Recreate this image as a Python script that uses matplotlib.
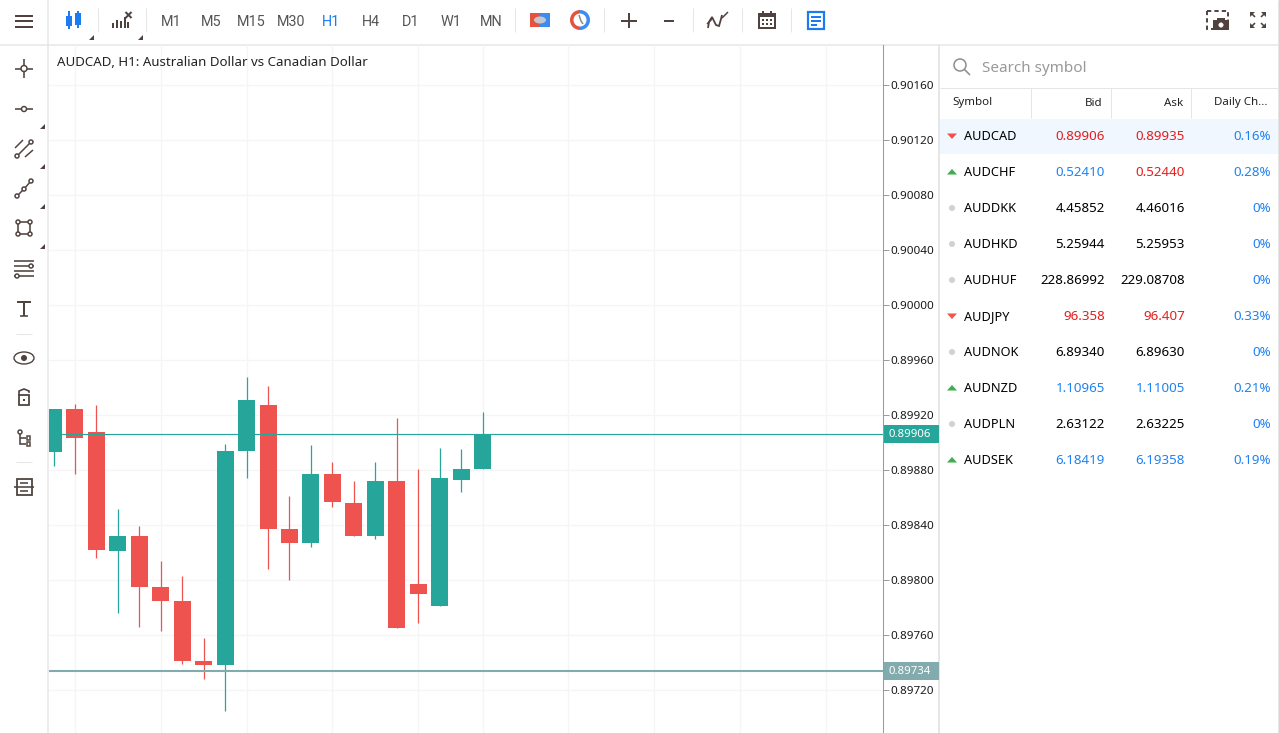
import matplotlib
matplotlib.use('Agg')
import matplotlib.pyplot as plt
import numpy as np
from matplotlib.patches import Rectangle, Circle, Polygon, Ellipse, Wedge
from matplotlib.ticker import FormatStrFormatter

plt.rcParams['font.family'] = ['Noto Sans', 'DejaVu Sans']

# candles, oldest first
opens = [0.89893, 0.89924, 0.89908, 0.89821, 0.89832, 0.89795, 0.89785, 0.89741, 0.89738, 0.89894, 0.89927,
         0.89837, 0.89827, 0.89877, 0.89856, 0.89832, 0.89872, 0.89797, 0.89781, 0.89873, 0.89881]
highs = [0.89924, 0.89928, 0.89927, 0.89852, 0.89839, 0.89814, 0.89803, 0.89758, 0.89899, 0.89948, 0.89941,
         0.89861, 0.89898, 0.89886, 0.89872, 0.89886, 0.89918, 0.89881, 0.89896, 0.89895, 0.89922]
lows = [0.89883, 0.89877, 0.89816, 0.89776, 0.89766, 0.89763, 0.89739, 0.89728, 0.89705, 0.89874, 0.89808,
        0.89800, 0.89824, 0.89853, 0.89832, 0.89830, 0.89765, 0.89769, 0.89781, 0.89864, 0.89881]
closes = [0.89924, 0.89903, 0.89822, 0.89832, 0.89795, 0.89785, 0.89741, 0.89738, 0.89894, 0.89931, 0.89837,
          0.89827, 0.89877, 0.89857, 0.89832, 0.89872, 0.89765, 0.89790, 0.89874, 0.89881, 0.89906]

price_ticks = [0.90160, 0.90120, 0.90080, 0.90040, 0.90000, 0.89960, 0.89920, 0.89880, 0.89840, 0.89800, 0.89760, 0.89720]
time_grid = [1, 5, 9, 13, 17, 20, 24, 28, 32, 36]
bid_price = 0.89906
low_price = 0.89734

timeframes = ['M1', 'M5', 'M15', 'M30', 'H1', 'H4', 'D1', 'W1', 'MN']

symbols = ['AUDCAD', 'AUDCHF', 'AUDDKK', 'AUDHKD', 'AUDHUF', 'AUDJPY', 'AUDNOK', 'AUDNZD', 'AUDPLN', 'AUDSEK']
bids = ['0.89906', '0.52410', '4.45852', '5.25944', '228.86992', '96.358', '6.89340', '1.10965', '2.63122', '6.18419']
asks = ['0.89935', '0.52440', '4.46016', '5.25953', '229.08708', '96.407', '6.89630', '1.11005', '2.63225', '6.19358']
changes = ['0.16%', '0.28%', '0%', '0%', '0%', '0.33%', '0%', '0.21%', '0%', '0.19%']
directions = ['down', 'up', 'flat', 'flat', 'flat', 'down', 'flat', 'up', 'flat', 'up']
bid_dirs = ['down', 'up', 'flat', 'flat', 'flat', 'down', 'flat', 'up', 'flat', 'up']
ask_dirs = ['down', 'down', 'flat', 'flat', 'flat', 'down', 'flat', 'up', 'flat', 'up']

UP = '#26a69a'
DOWN = '#ef5350'
BROWN = '#50433f'
SEP = '#e6e6e6'
BLUE = '#1a7cf0'
TEXT_COL = {'down': '#e81c1c', 'up': '#1f82f2', 'flat': '#000000'}

W, H = 1279, 733
fig = plt.figure(figsize=(W / 100, H / 100), dpi=100, facecolor='white')

# pixel canvas for the toolbars and the symbol table
ui = fig.add_axes([0, 0, 1, 1], zorder=0)
ui.set_xlim(0, W)
ui.set_ylim(H, 0)
ui.axis('off')


def ln(xs, ys, lw=2.0, c=BROWN):
    ui.plot(xs, ys, color=c, lw=lw * 0.72, solid_capstyle='butt', solid_joinstyle='miter')


def box(x, y, w, h, c=BROWN, **kw):
    ui.add_patch(Rectangle((x, y), w, h, facecolor=c, edgecolor='none', **kw))


def frame(x, y, w, h, lw=2.0, c=BROWN):
    ui.add_patch(Rectangle((x, y), w, h, facecolor='none', edgecolor=c, lw=lw * 0.72))


def dot(x, y, r, c='white', ec=BROWN, lw=1.5):
    ui.add_patch(Circle((x, y), r, facecolor=c, edgecolor=ec, lw=lw * 0.72, zorder=3))


def corner(x, y):
    ui.add_patch(Polygon([(x + 3, y - 3), (x + 3, y + 2), (x - 2, y + 2)], facecolor=BROWN, edgecolor='none'))


# frame lines
ln([0, W], [44.5, 44.5], 1.5, SEP)
ln([48, 48], [0, H], 1.5, SEP)
ln([939, 939], [45, H], 2, SEP)
ln([1278, 1278], [0, H], 1, SEP)
for sx in [97.5, 146, 515, 604, 693, 742, 791]:
    ln([sx, sx], [8, 32], 1, SEP)

# top left icons
for hy in [15.5, 21, 26.5]:
    ln([15, 33], [hy, hy], 2)
ln([69, 69], [11, 29], 2, BLUE)
box(66, 16, 6, 10, BLUE)
ln([77.5, 77.5], [11, 28], 2, BLUE)
frame(75.5, 14, 4, 10, 2, BLUE)
for bx, top in zip([113, 117, 121, 124.5, 128], [23, 19.5, 21, 17, 22]):
    ln([bx, bx], [27.5, top], 2)
ln([125.5, 131.5], [12, 18], 2)
ln([125.5, 131.5], [18, 12], 2)
corner(91, 38)
corner(140, 38)

for i, tf in enumerate(timeframes):
    ui.text(171 + 40 * i, 21.7, tf, fontsize=10.4, family='Roboto', ha='center', va='center',
            color=BLUE if tf == 'H1' else '#555555')

# toggle and clock
box(530, 13, 10, 14, '#e5533f')
box(540, 13, 10, 14, '#3c8df0')
ui.add_patch(Ellipse((540, 20), 12, 7, facecolor='#c4c8cc', edgecolor='none'))
ui.add_patch(Wedge((580, 20), 10, 90, 270, width=3.5, facecolor='#e5533f', edgecolor='none'))
ui.add_patch(Wedge((580, 20), 10, 270, 90, width=3.5, facecolor='#3c8df0', edgecolor='none'))
ln([579, 581, 583], [15, 21, 24], 1.5, '#888888')

# zoom, indicators, calendar, doc
ln([621, 637], [20.5, 20.5], 2)
ln([629, 629], [13, 28], 2)
ln([664, 674], [20.5, 20.5], 2)
ln([708, 709, 712, 714, 716, 719, 721, 722], [28, 22, 17, 21, 25, 26, 19, 15], 1.8)
ln([707, 712], [24, 19], 1.5)
ln([722, 728], [18, 12], 1.5)
frame(759, 14, 16, 14, 2)
box(758, 13, 18, 4)
ln([763, 763], [11, 14], 2)
ln([771, 771], [11, 14], 2)
for gx in [763, 767, 771]:
    for gy in [20, 24]:
        box(gx - 0.8, gy - 0.8, 1.6, 1.6)
frame(808, 12, 16, 17, 2.2, BLUE)
ln([811, 821], [16.5, 16.5], 2, BLUE)
ln([811, 821], [20.5, 20.5], 2, BLUE)
ln([811, 817], [24.5, 24.5], 2, BLUE)

# screenshot and fullscreen
ui.add_patch(Rectangle((1207, 11), 21, 18, facecolor='none', edgecolor=BROWN, lw=1.4, linestyle=(0, (2.2, 1.6))))
box(1213, 20, 16, 10)
box(1217, 18, 8, 3)
dot(1221, 25, 2.2, 'white', 'white', 0.5)
for sx, sy in [(-1, -1), (1, -1), (-1, 1), (1, 1)]:
    cx, cy = 1258 + sx * 8, 20 + sy * 8
    ui.add_patch(Polygon([(cx, cy), (cx - sx * 5, cy), (cx, cy - sy * 5)], facecolor=BROWN, edgecolor='none'))
    ln([cx - sx * 2, cx - sx * 5], [cy - sy * 2, cy - sy * 5], 1.6)

# left toolbar
lx = 24
ln([lx - 9, lx + 9], [68.5, 68.5], 1.6)
ln([lx, lx], [59, 78], 1.6)
dot(lx, 68.5, 3)
ln([lx - 9, lx + 9], [109, 109], 1.6)
dot(lx, 109, 2.5)
ln([15, 23], [148, 140], 1.5)
ln([17, 31], [156, 142], 1.5)
ln([25, 33], [157, 150], 1.5)
dot(17, 156, 2)
dot(31, 142, 2)
ln([17, 24, 31], [196, 189, 181], 1.5)
dot(17, 196, 2)
dot(24, 189, 2)
dot(31, 181, 2)
frame(18, 222, 12, 12, 1.6)
for cx, cy in [(18, 222), (30, 222), (18, 234), (30, 234)]:
    dot(cx, cy, 2)
ln([14, 34], [261, 261], 1.6)
ln([14, 34], [266, 266], 1.6)
ln([14, 34], [276, 276], 1.6)
ln([14, 34], [271, 271], 1.6)
dot(31, 266, 2)
dot(17, 276, 2)
ln([17, 31], [302, 302], 2)
ln([24, 24], [302, 316], 2)
ln([20, 28], [316, 316], 1.6)
ln([16, 32], [333.5, 333.5], 1, SEP)
ui.add_patch(Ellipse((lx, 358), 20, 12, facecolor='none', edgecolor=BROWN, lw=1.0))
dot(lx, 358, 2.5, BROWN, BROWN, 1)
frame(18.5, 395, 10.5, 10, 1.8)
box(23, 399, 2, 2)
ui.plot([19, 19, 24, 29, 29], [395, 391, 389, 391, 392], color=BROWN, lw=1.2)
ln([20, 20, 26], [432, 444, 444], 1.6)
ln([20, 26], [438, 438], 1.6)
dot(20, 432, 2)
frame(26.5, 436, 3.5, 3.5, 1.5)
frame(26.5, 442, 3.5, 3.5, 1.5)
ln([16, 32], [462, 462], 1, SEP)
ui.add_patch(Rectangle((16.5, 479), 15, 16, facecolor='none', edgecolor=BROWN, lw=1.3))
ln([14, 34], [487, 487], 1.6)
ln([20, 28], [483, 483], 1.6)
ln([20, 28], [491, 491], 1.6)
for ty in [127, 167, 207, 247]:
    corner(42, ty)

# search box
ui.add_patch(Circle((960, 65), 6, facecolor='none', edgecolor='#8e8e8e', lw=1.1))
ln([964.5, 970], [69.5, 75], 1.6, '#8e8e8e')
ui.text(982, 68, 'Search symbol', fontsize=11, color='#999999', va='center')

# table header
ln([940, W], [87.5, 87.5], 1, SEP)
for sx in [1031, 1111, 1191]:
    ln([sx, sx], [88, 118], 1, SEP)
ui.text(952, 103, 'Symbol', fontsize=8.3, color='#222222', va='center')
ui.text(1103, 103, 'Bid', fontsize=8.3, color='#222222', va='center', ha='right')
ui.text(1183, 103, 'Ask', fontsize=8.3, color='#222222', va='center', ha='right')
ui.text(1267, 103, 'Daily Ch...', fontsize=8.3, color='#222222', va='center', ha='right')

# table rows
box(940, 118.5, 338, 35.5, '#f0f7fe')
for i, sym in enumerate(symbols):
    ry = 136 + 36 * i
    ty = ry + 0.8
    d = directions[i]
    if d == 'down':
        ui.add_patch(Polygon([(947, ry - 2.5), (957, ry - 2.5), (952, ry + 3)], facecolor='#ef5350', edgecolor='none'))
    elif d == 'up':
        ui.add_patch(Polygon([(947, ry + 2.5), (957, ry + 2.5), (952, ry - 3)], facecolor='#3bae4f', edgecolor='none'))
    else:
        ui.add_patch(Circle((952, ry), 3, facecolor='#d2d2d2', edgecolor='none'))
    ui.text(964, ty, sym, fontsize=9.2, color='black', va='center')
    ui.text(1105, ty, bids[i], fontsize=9.6, color=TEXT_COL[bid_dirs[i]], va='center', ha='right')
    ui.text(1185, ty, asks[i], fontsize=9.6, color=TEXT_COL[ask_dirs[i]], va='center', ha='right')
    ui.text(1271, ty, changes[i], fontsize=9.6, color=TEXT_COL['up'], va='center', ha='right')

# price chart, 55 px per 0.0004 and 21.45 px per candle
px_price = 0.0004 / 55
ax = fig.add_axes([49 / W, 0, 834 / W, 688 / H], zorder=1)
ax.patch.set_alpha(0)
ax.set_xlim(-4.5 / 21.45, 38.67)
ax.set_ylim(0.90160 - 648 * px_price, 0.90160 + 40 * px_price)

for name in ['top', 'left', 'bottom']:
    ax.spines[name].set_visible(False)
ax.spines['right'].set_color('#9a9a9a')
ax.spines['right'].set_linewidth(0.75)

ax.yaxis.tick_right()
ax.set_yticks(price_ticks)
ax.yaxis.set_major_formatter(FormatStrFormatter('%.5f'))
ax.tick_params(axis='y', length=4, width=0.7, color='#9a9a9a', labelsize=8.4, labelcolor='#1a1a1a', pad=1)
ax.set_xticks(time_grid)
ax.tick_params(axis='x', length=0, labelbottom=False)
ax.grid(True, color='#f5f5f5', lw=1)
ax.set_axisbelow(True)

idx = np.arange(len(opens))
o = np.array(opens)
c = np.array(closes)
cols = [UP if cl >= op else DOWN for op, cl in zip(opens, closes)]
ax.vlines(idx, lows, highs, colors=cols, lw=0.9, zorder=2)
ax.bar(idx, np.abs(c - o), bottom=np.minimum(o, c), width=17 / 21.45, color=cols, linewidth=0, zorder=2)

ax.axhline(bid_price, color=UP, lw=0.85, zorder=3)
ax.axhline(low_price, color='#82abae', lw=1.5, zorder=3)

trans = ax.get_yaxis_transform()
for price, col in [(bid_price, UP), (low_price, '#82abae')]:
    ax.add_patch(Rectangle((1.001, price - 9 * px_price), 55 / 834, 18 * px_price, transform=trans,
                           facecolor=col, edgecolor='none', clip_on=False, zorder=4))
    ax.text(1 + 5 / 834, price - 0.7 * px_price, '%.5f' % price, transform=trans, fontsize=8.2, color='white',
            va='center', clip_on=False, zorder=5)

ax.text(8 / 834, 0.90160 + 23 * px_price, 'AUDCAD, H1: Australian Dollar vs Canadian Dollar', fontsize=9.55,
        color='#222222', transform=trans, va='center')

fig.savefig('out.png', dpi=100)
